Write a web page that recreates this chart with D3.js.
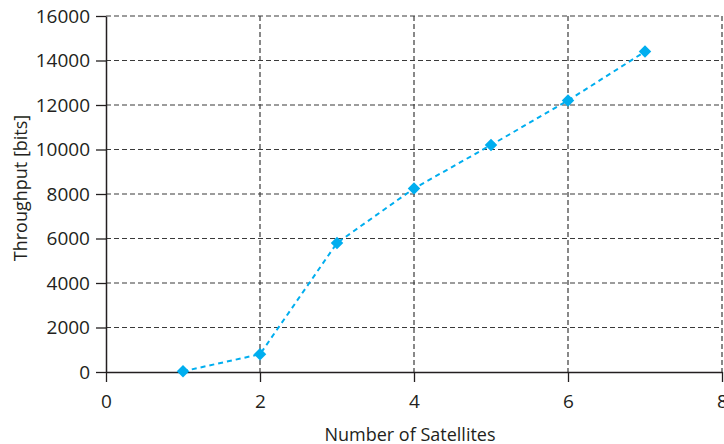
<!DOCTYPE html>
<html>
<head>
<meta charset="utf-8">
<script src="https://cdn.jsdelivr.net/npm/d3@7"></script>
<style>
  body { margin: 0; background: #fff; }
  text { font-family: "Open Sans", sans-serif; fill: #231f20; }
</style>
</head>
<body>
<div id="chart"></div>
<script>
const satellites = [1, 2, 3, 4, 5, 6, 7];
const throughput = [30, 800, 5800, 8250, 10200, 12200, 14400];
const xTicks = [0, 2, 4, 6, 8];
const yTicks = [0, 2000, 4000, 6000, 8000, 10000, 12000, 14000, 16000];

const W = 724, H = 444;
const margin = { top: 16, right: 2, bottom: 72, left: 106 };
const width = W - margin.left - margin.right;
const height = 372 - margin.top;

const svg = d3.select("#chart").append("svg")
  .attr("width", W).attr("height", H)
  .append("g")
  .attr("transform", "translate(" + margin.left + "," + margin.top + ")");

const x = d3.scaleLinear().domain([0, 8]).range([0, width]);
const y = d3.scaleLinear().domain([0, 16000]).range([height, 0]);

// grid
svg.append("g").selectAll("line")
  .data(yTicks.filter(d => d > 0))
  .enter().append("line")
  .attr("x1", 0).attr("x2", width)
  .attr("y1", d => y(d)).attr("y2", d => y(d))
  .attr("stroke", "#3a3a3a").attr("stroke-width", 1.2)
  .attr("stroke-dasharray", "5,3");

svg.append("g").selectAll("line")
  .data(xTicks.filter(d => d > 0))
  .enter().append("line")
  .attr("x1", d => x(d)).attr("x2", d => x(d))
  .attr("y1", 0).attr("y2", height)
  .attr("stroke", "#3a3a3a").attr("stroke-width", 1.2)
  .attr("stroke-dasharray", "5,3");

// axes
const xAxis = d3.axisBottom(x).tickValues(xTicks).tickFormat(d3.format("d"))
  .tickSize(10).tickSizeOuter(0).tickPadding(13);
const yAxis = d3.axisLeft(y).tickValues(yTicks).tickFormat(d3.format("d"))
  .tickSize(10).tickSizeOuter(0).tickPadding(6);

const gx = svg.append("g")
  .attr("transform", "translate(0," + height + ")")
  .call(xAxis);
const gy = svg.append("g").call(yAxis);

[gx, gy].forEach(g => {
  g.select(".domain").attr("stroke", "#231f20").attr("stroke-width", 1.5);
  g.selectAll(".tick line").attr("stroke", "#231f20").attr("stroke-width", 1.3);
  g.selectAll(".tick text").style("font-size", "19px").attr("fill", "#231f20");
});

// line
const line = d3.line()
  .x((d, i) => x(satellites[i]))
  .y(d => y(d));

svg.append("path")
  .datum(throughput)
  .attr("d", line)
  .attr("fill", "none")
  .attr("stroke", "#00aeef")
  .attr("stroke-width", 2)
  .attr("stroke-dasharray", "5,4");

svg.selectAll(".pt")
  .data(throughput)
  .enter().append("path")
  .attr("class", "pt")
  .attr("d", d3.symbol().type(d3.symbolDiamond2).size(100))
  .attr("transform", (d, i) => "translate(" + x(satellites[i]) + "," + y(d) + ")")
  .attr("fill", "#00aeef");

// axis labels
svg.append("text")
  .attr("text-anchor", "middle")
  .attr("transform", "translate(" + (-79) + "," + 172 + ")rotate(-90)")
  .style("font-size", "18px")
  .text("Throughput [bits]");

svg.append("text")
  .attr("text-anchor", "middle")
  .attr("transform", "translate(" + (x(4) - 4) + "," + (height + 69) + ")")
  .style("font-size", "18px")
  .text("Number of Satellites");
</script>
</body>
</html>
